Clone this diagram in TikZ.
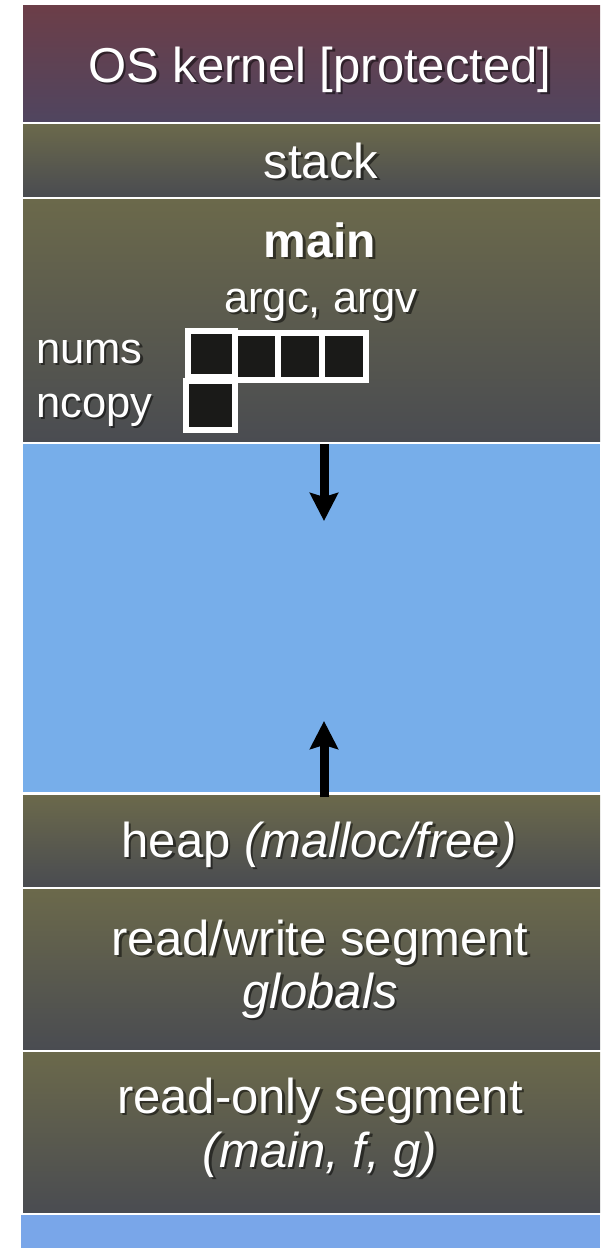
\documentclass[tikz,border=0pt]{standalone}
\usepackage{fontspec}
\setmainfont{Liberation Sans}
\usetikzlibrary{arrows.meta}
\definecolor{kerneltop}{HTML}{6C3E48}
\definecolor{kernelbot}{HTML}{50455F}
\definecolor{segtop}{HTML}{6B694B}
\definecolor{segbot}{HTML}{4A4C51}
\definecolor{freeblue}{HTML}{77AEEA}
\definecolor{lowblue}{HTML}{79A6E9}
\definecolor{cellblack}{HTML}{1A1A18}
\tikzset{
  kernelseg/.style={top color=kerneltop, bottom color=kernelbot, draw=none},
  memseg/.style={top color=segtop, bottom color=segbot, draw=none},
  freeseg/.style={fill=freeblue, draw=none},
  lowseg/.style={fill=lowblue, draw=none},
  lbl/.style={text=white, inner sep=0pt, anchor=base},
  shade/.style={text=black, opacity=0.5, inner sep=0pt, anchor=base},
  big/.style={font=\fontsize{49}{55}\selectfont},
  mid/.style={font=\fontsize{43.5}{49}\selectfont},
  cell/.style={draw=white, line width=6pt, fill=cellblack, inner sep=0pt},
  growth/.style={line width=9pt, -{Stealth[width=28pt,length=28pt,inset=4pt]}},
}
% label with a soft drop shadow underneath
\newcommand{\seglabel}[4][]{%
  \node[shade,#1] (#2-sh) at ([shift={(2.4,2.4)}]#3) {#4};
  \node[lbl,#1] (#2) at (#3) {#4};
}
\begin{document}
\begin{tikzpicture}[x=1pt,y=-1pt]
\useasboundingbox (0,0) rectangle (600,1248);
\fill[white] (0,0) rectangle (600,1248);

% memory segments, top to bottom
\path[kernelseg] (23,5) rectangle (600,121);
\path[memseg] (23,124) rectangle (600,196);
\path[memseg] (23,199) rectangle (600,441);
\path[freeseg] (23,444) rectangle (600,792);
\path[memseg] (23,795) rectangle (600,886);
\path[memseg] (23,889) rectangle (600,1049);
\path[memseg] (23,1052) rectangle (600,1212);
\path[lowseg] (21,1215) rectangle (600,1248);

% segment labels
\seglabel[big]{kernel}{320,82}{OS kernel [protected]}
\seglabel[big]{stack}{321,178}{stack}
\seglabel[font=\fontsize{48}{54}\selectfont\bfseries]{mainfn}{320,257}{main}
\seglabel[mid]{args}{321,312}{argc, argv}
\seglabel[mid,anchor=base west]{nums}{36,363}{nums}
\seglabel[mid,anchor=base west]{ncopy}{36,417}{ncopy}
\seglabel[big]{heap}{319,857}{heap \textit{(malloc/free)}}
\seglabel[big]{rw}{320,955}{read/write segment}
\seglabel[big]{globals}{320,1008}{\textit{globals}}
\seglabel[big]{ro}{320,1113}{read-only segment}
\seglabel[big]{code}{320,1167}{\textit{(main, f, g)}}

% local arrays of main
\node[cell, minimum width=44pt, minimum height=47pt] (n2) at (256,356.5) {};
\node[cell, minimum width=44pt, minimum height=47pt] (n3) at (300,356.5) {};
\node[cell, minimum width=44pt, minimum height=47pt] (n4) at (344,356.5) {};
\node[cell, minimum width=47pt, minimum height=46pt] (n1) at (211.5,354) {};
\node[cell, minimum width=49pt, minimum height=49pt] (c1) at (210.5,405.5) {};

% growth directions of stack and heap
\coordinate (stackedge) at (324,444);
\coordinate (stackgrow) at (324,521);
\coordinate (heapedge) at (324,797);
\coordinate (heapgrow) at (324,721);
\draw[growth] (stackedge) -- (stackgrow);
\draw[growth] (heapedge) -- (heapgrow);
\end{tikzpicture}
\end{document}
